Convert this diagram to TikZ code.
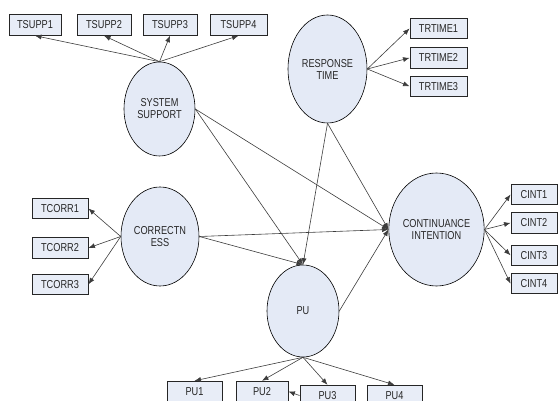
\documentclass[tikz,border=0pt]{standalone}
\usepackage{fontspec}
\setmainfont{Liberation Sans}[FakeStretch=0.8]
\usetikzlibrary{shapes.geometric}
\usetikzlibrary{positioning}
\usetikzlibrary{arrows.meta}
\definecolor{latentfill}{RGB}{228,234,246}
\definecolor{boxfill}{RGB}{232,237,247}
\definecolor{linegray}{RGB}{60,60,60}

\begin{document}
\begin{tikzpicture}[x=1pt, y=-1pt, >={Latex[length=6.5pt,width=5pt]},
    every node/.style={font=\fontsize{11.5}{12}\selectfont, text=black!85},
    every text node part/.style={align=center},
    latent/.style={ellipse, draw, fill=latentfill, line width=0.6pt, inner sep=0pt},
    indicator/.style={draw=black!85, fill=boxfill, line width=0.9pt, inner sep=0pt, minimum height=20.5pt},
    link/.style={->, draw=linegray, line width=0.6pt}]
    \useasboundingbox (0,0) rectangle (558,401);

    \node[latent, minimum width=71pt, minimum height=94pt] (support) at (159.5,109) {SYSTEM \\ SUPPORT};
    \node[latent, minimum width=79pt, minimum height=108pt] (response) at (327.5,69) {RESPONSE \\ TIME};
    \node[latent, minimum width=78pt, minimum height=99pt] (correct) at (160,236.5) {CORRECTN \\ ESS};
    \node[latent, minimum width=95pt, minimum height=113pt] (intention) at (436.5,229.5) {CONTINUANCE \\ INTENTION};
    \node[latent, minimum width=72pt, minimum height=92pt] (pu) at (303,311) {PU};

    \node[indicator, minimum width=52pt] (tsupp1) at (35,25) {TSUPP1};
    \node[indicator, minimum width=54pt] (tsupp2) at (104,25) {TSUPP2};
    \node[indicator, minimum width=54pt] (tsupp3) at (170,25) {TSUPP3};
    \node[indicator, minimum width=57pt] (tsupp4) at (238.5,25) {TSUPP4};

    \node[indicator, minimum width=57pt] (trtime1) at (438.5,28.5) {TRTIME1};
    \node[indicator, minimum width=57pt, below=8pt of trtime1] (trtime2) {TRTIME2};
    \node[indicator, minimum width=57pt, below=7pt of trtime2] (trtime3) {TRTIME3};

    \node[indicator, minimum width=56pt] (tcorr1) at (60,208.5) {TCORR1};
    \node[indicator, minimum width=56pt, below=18pt of tcorr1] (tcorr2) {TCORR2};
    \node[indicator, minimum width=56pt, below=15pt of tcorr2] (tcorr3) {TCORR3};

    \node[indicator, minimum width=46pt] (cint1) at (534,194.5) {CINT1};
    \node[indicator, minimum width=46pt, below=7pt of cint1] (cint2) {CINT2};
    \node[indicator, minimum width=46pt, below=11pt of cint2] (cint3) {CINT3};
    \node[indicator, minimum width=46pt, below=7pt of cint3] (cint4) {CINT4};

    \node[indicator, minimum width=55pt] (pu1) at (194.5,391.5) {PU1};
    \node[indicator, minimum width=52pt] (pu2) at (262,391.5) {PU2};
    \node[indicator, minimum width=55pt] (pu3) at (327.5,395.5) {PU3};
    \node[indicator, minimum width=55pt] (pu4) at (394.5,395.5) {PU4};

    \draw[link] (support.north) -- (tsupp1.south);
    \draw[link] (support.north) -- (tsupp2.south);
    \draw[link] (support.north) -- (tsupp3.south);
    \draw[link] (support.north) -- (tsupp4.south);

    \draw[link] (response.east) -- (trtime1.west);
    \draw[link] (response.east) -- (trtime2.west);
    \draw[link] (response.east) -- (trtime3.west);

    \draw[link] (correct.west) -- (tcorr1.east);
    \draw[link] (correct.west) -- (tcorr2.east);
    \draw[link] (correct.west) -- (tcorr3.east);

    \draw[link] (intention.east) -- (cint1.west);
    \draw[link] (intention.east) -- (cint2.west);
    \draw[link] (intention.east) -- (cint3.west);
    \draw[link] (intention.east) -- (cint4.west);

    \draw[link] (pu.south) -- (pu1.north);
    \draw[link] (pu.south) -- (pu2.north);
    \draw[link] (pu.south) -- (pu3.north);
    \draw[link] (pu.south) -- (pu4.north);
    \draw[link] (pu3.west) -- (pu2.east);

    \draw[link] (support.east) -- (pu.north);
    \draw[link] (support.east) -- (intention.west);
    \draw[link] (response.south) -- (pu.north);
    \draw[link] (response.south) -- (intention.west);
    \draw[link] (correct.east) -- (intention.west);
    \draw[link] (correct.east) -- (pu.north);
    \draw[link] (pu.east) -- (intention.west);
\end{tikzpicture}
\end{document}
